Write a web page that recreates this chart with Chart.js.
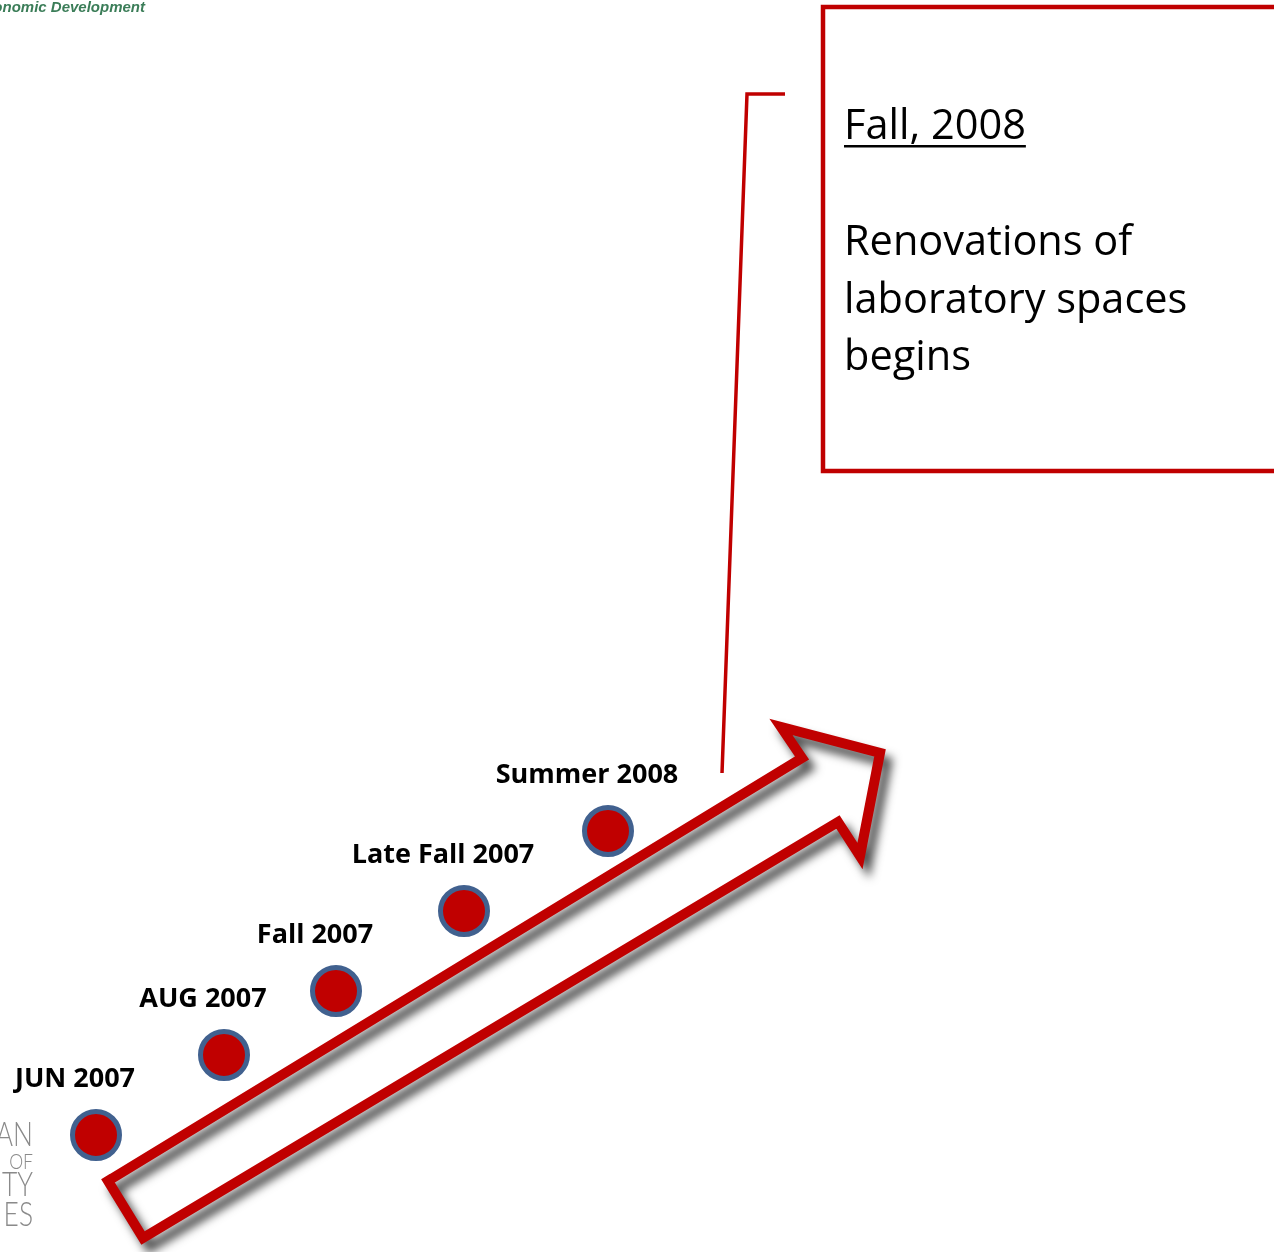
<!DOCTYPE html>
<html>
<head>
<meta charset="utf-8">
<script src="https://cdn.jsdelivr.net/npm/chart.js@4"></script>
<style>
  body { margin: 0; background: #fff; }
  #wrap { width: 1274px; height: 1252px; position: relative; }
</style>
</head>
<body>
<div id="wrap"><canvas id="timeline"></canvas></div>
<script>
// milestones along the arrow (slide units, y grows downward)
const milestones = ['JUN 2007', 'AUG 2007', 'Fall 2007', 'Late Fall 2007', 'Summer 2008'];
const milestoneX = [96, 224, 336, 464, 608];
const milestoneY = [1135, 1055, 991, 911, 831];

// arrow outline vertices
const arrowX = [108, 802, 781, 880, 860, 838, 143, 108];
const arrowY = [1181, 758, 727, 753, 856, 822, 1238, 1181];

// callout leader line and box
const leaderX = [785, 747, 722];
const leaderY = [94, 94, 773];
const boxX = [1300, 823, 823, 1300];
const boxY = [7, 7, 471, 471];

const noteTitle = 'Fall, 2008';
const noteLines = ['Renovations of', 'laboratory spaces', 'begins'];

const RED = '#C00000';
const BLUE = '#41618F';

function pts(xs, ys){
  return xs.map(function(x, i){ return {x: x, y: ys[i]}; });
}

// shadow under the arrow
const shadowPlugin = {
  id: 'arrowShadow',
  beforeDatasetDraw: function(chart, args){
    if (args.index !== 1) return;
    const ctx = chart.ctx;
    ctx.save();
    ctx.shadowColor = 'rgba(0,0,0,0.7)';
    ctx.shadowBlur = 10;
    ctx.shadowOffsetX = 7;
    ctx.shadowOffsetY = 9;
  },
  afterDatasetDraw: function(chart, args){
    if (args.index !== 1) return;
    chart.ctx.restore();
  }
};

// texts: milestone labels, callout note, logo fragments
const textPlugin = {
  id: 'texts',
  afterDraw: function(chart){
    const ctx = chart.ctx;
    const sx = chart.scales.x, sy = chart.scales.y;
    ctx.save();

    ctx.fillStyle = '#000';
    ctx.font = 'bold 27px "Open Sans"';
    ctx.textAlign = 'center';
    ctx.textBaseline = 'alphabetic';
    milestones.forEach(function(m, i){
      const px = sx.getPixelForValue(milestoneX[i]) - 21;
      const py = sy.getPixelForValue(milestoneY[i]) - 48;
      ctx.fillText(m, px, py);
    });

    const left = sx.getPixelForValue(boxX[1]) + 21;
    ctx.textAlign = 'left';
    ctx.font = '41.5px "Open Sans"';
    const tBase = sy.getPixelForValue(boxY[0]) + 132;
    ctx.fillText(noteTitle, left, tBase);
    const w = ctx.measureText(noteTitle).width;
    ctx.fillRect(left, tBase + 6, w, 2.5);
    noteLines.forEach(function(l, i){
      ctx.fillText(l, left, tBase + 116 + i * 57.5);
    });

    // logo fragments
    ctx.fillStyle = '#3B7D58';
    ctx.font = 'italic bold 15px "Liberation Sans"';
    ctx.textAlign = 'right';
    ctx.fillText('Economic Development', 145, 12);

    ctx.fillStyle = '#8A8A8A';
    ctx.translate(33, 0);
    ctx.scale(0.8, 1);
    ctx.font = '300 33px Lato';
    ctx.fillText('AN', 0, 1146);
    ctx.font = '300 22px Lato';
    ctx.fillText('OF', 0, 1169);
    ctx.font = '300 33px Lato';
    ctx.fillText('ITY', 0, 1196);
    ctx.fillText('ES', 0, 1226);
    ctx.restore();
  }
};

new Chart(document.getElementById('timeline'), {
  type: 'scatter',
  data: {
    datasets: [
      {
        label: 'Milestones',
        data: pts(milestoneX, milestoneY),
        pointRadius: 23.5,
        pointHoverRadius: 23.5,
        backgroundColor: RED,
        borderColor: BLUE,
        borderWidth: 5,
        order: 0
      },
      {
        label: 'Arrow',
        data: pts(arrowX, arrowY),
        showLine: true,
        borderColor: RED,
        borderWidth: 10,
        borderJoinStyle: 'miter',
        borderCapStyle: 'square',
        pointRadius: 0,
        fill: false,
        order: 1
      },
      {
        label: 'Leader',
        data: pts(leaderX, leaderY),
        showLine: true,
        borderColor: RED,
        borderWidth: 3.5,
        borderJoinStyle: 'miter',
        pointRadius: 0,
        order: 2
      },
      {
        label: 'Box',
        data: pts(boxX, boxY),
        showLine: true,
        borderColor: RED,
        borderWidth: 4.5,
        borderJoinStyle: 'miter',
        pointRadius: 0,
        order: 3
      }
    ]
  },
  options: {
    responsive: true,
    maintainAspectRatio: false,
    animation: false,
    layout: { padding: 0, autoPadding: false },
    plugins: {
      legend: { display: false },
      tooltip: { enabled: false }
    },
    scales: {
      x: { type: 'linear', min: 0, max: 1274, display: false },
      y: { type: 'linear', min: 0, max: 1252, reverse: true, display: false }
    }
  },
  plugins: [shadowPlugin, textPlugin]
});
</script>
</body>
</html>
